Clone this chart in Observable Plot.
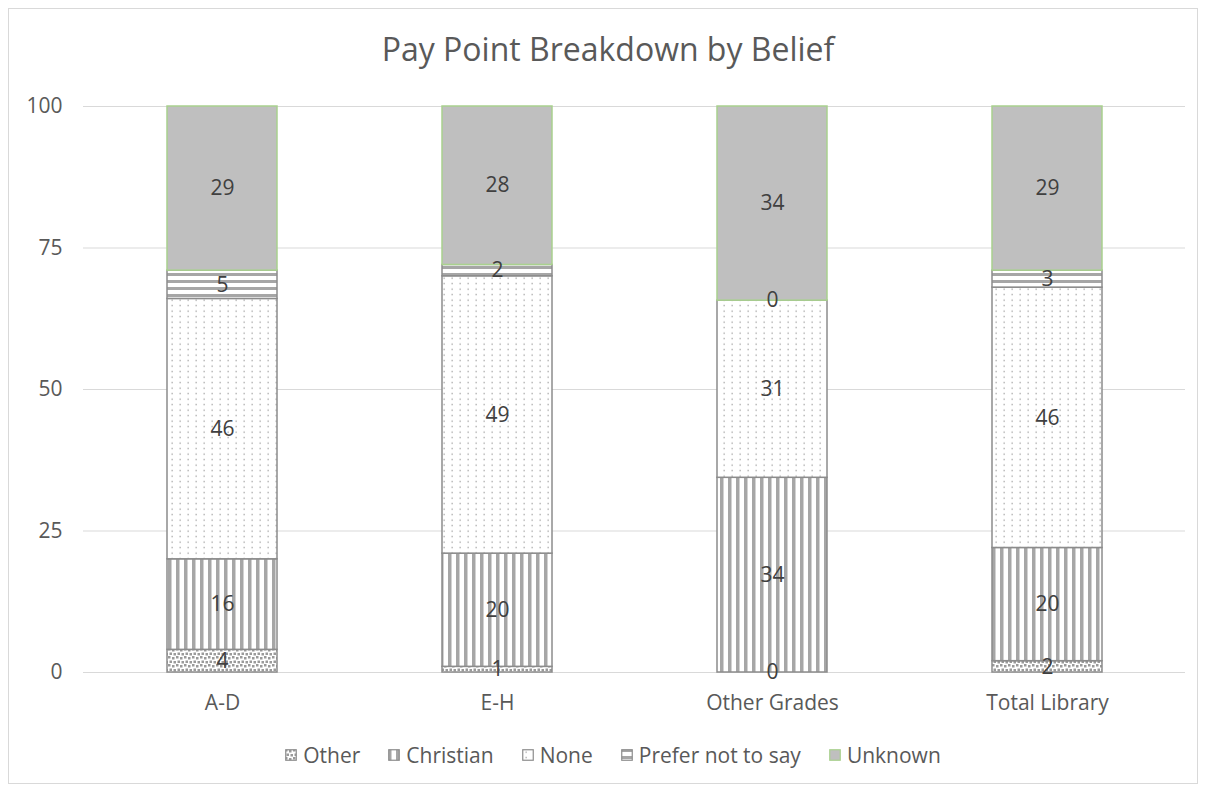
<!DOCTYPE html>
<html><head><meta charset="utf-8">
<script src="https://cdn.jsdelivr.net/npm/d3@7"></script>
<script src="https://cdn.jsdelivr.net/npm/@observablehq/plot@0.6"></script>
<style>
body{margin:0;background:#fff;font-family:"Open Sans","Noto Sans",sans-serif;}
#wrap{position:relative;width:1205px;height:791px;overflow:hidden;}
#frame{position:absolute;left:8px;top:8px;width:1190px;height:776px;border:1px solid #d9d9d9;box-sizing:border-box;}
#title{position:absolute;left:0;width:1216px;top:27px;text-align:center;font-size:32px;color:#595959;line-height:normal;}
#chart{position:absolute;left:0;top:0;}
#legend{position:absolute;left:0;width:1226px;top:741px;display:flex;justify-content:center;gap:28px;font-size:21px;color:#595959;line-height:normal;}
.item{display:flex;align-items:center;gap:6px;}
</style></head>
<body>
<svg width="0" height="0" style="position:absolute">
<defs>
<pattern id="pOther" patternUnits="userSpaceOnUse" width="8" height="8">
<rect width="8" height="8" fill="#fff"/>
<rect x="0" y="0" width="2.5" height="2.5" fill="#9a9a9a"/>
<rect x="4" y="1" width="2.5" height="2.5" fill="#9a9a9a"/>
<rect x="1.5" y="4.5" width="2.5" height="2.5" fill="#9a9a9a"/>
<rect x="5.5" y="5" width="2.5" height="2.5" fill="#9a9a9a"/>
</pattern>
<pattern id="pChristian" patternUnits="userSpaceOnUse" width="8" height="8">
<rect width="8" height="8" fill="#fff"/>
<rect x="0" y="0" width="3.5" height="8" fill="#a6a6a6"/>
</pattern>
<pattern id="pNone" patternUnits="userSpaceOnUse" width="8" height="5.5">
<rect width="8" height="5.5" fill="#fff"/>
<rect x="3.5" y="2.5" width="1.3" height="1.3" fill="#a0a0a0"/>
</pattern>
<pattern id="pPrefer" patternUnits="userSpaceOnUse" width="8" height="7">
<rect width="8" height="7" fill="#fff"/>
<rect x="0" y="0" width="8" height="3" fill="#a6a6a6"/>
</pattern>
</defs>
</svg>
<div id="wrap">
<div id="frame"></div>
<div id="chart"></div>
<div id="title">Pay Point Breakdown by Belief</div>
<div id="legend"></div>
</div>
<script>
const grades = ["A-D", "E-H", "Other Grades", "Total Library"];
const beliefs = ["Other", "Christian", "None", "Prefer not to say", "Unknown"];
const otherVals = [4, 1, 0, 2];
const christianVals = [16, 20, 34.4, 20];
const noneVals = [46, 49, 31.3, 46];
const preferVals = [5, 2, 0, 3];
const unknownVals = [29, 28, 34.3, 29];
const yTicks = [0, 25, 50, 75, 100];

const series = [otherVals, christianVals, noneVals, preferVals, unknownVals];
const rows = [];
grades.forEach((g, i) => beliefs.forEach((b, j) => rows.push({grade: g, belief: b, value: series[j][i]})));

const fills = {"Other": "url(#pOther)", "Christian": "url(#pChristian)", "None": "url(#pNone)", "Prefer not to say": "url(#pPrefer)", "Unknown": "#bfbfbf"};
const strokes = {"Other": "#8c8c8c", "Christian": "#8c8c8c", "None": "#8c8c8c", "Prefer not to say": "#8c8c8c", "Unknown": "#a9d18e"};

const chart = Plot.plot({
  width: 1205, height: 722,
  marginTop: 106, marginBottom: 50, marginLeft: 83, marginRight: 20,
  style: {fontFamily: "'Open Sans','Noto Sans',sans-serif", fontSize: "21px", color: "#595959", background: "transparent"},
  x: {domain: grades, paddingInner: 0.6, paddingOuter: 0.3, label: null},
  y: {domain: [0, 100], label: null},
  color: {type: "identity"},
  marks: [
    Plot.gridY(yTicks, {stroke: "#d9d9d9", strokeOpacity: 1, strokeWidth: 1}),
    Plot.axisY(yTicks, {tickSize: 0, tickPadding: 21, label: null, fontSize: 21}),
    Plot.axisX({tickSize: 0, tickPadding: 23, label: null, fontSize: 21}),
    Plot.rectY(rows, Plot.stackY({x: "grade", y: "value", z: "belief", order: beliefs,
      fill: d => fills[d.belief], stroke: d => strokes[d.belief], strokeWidth: 1.5})),
    Plot.text(rows, Plot.stackY({x: "grade", y: "value", z: "belief", order: beliefs,
      text: d => String(Math.round(d.value)), fill: "#404040", fontSize: 21}))
  ]
});
document.getElementById("chart").appendChild(chart);

const legend = document.getElementById("legend");
beliefs.forEach(b => {
  const item = document.createElement("div");
  item.className = "item";
  item.innerHTML = `<svg width="12" height="12"><rect x="0.75" y="0.75" width="10.5" height="10.5" fill="${fills[b]}" stroke="${strokes[b]}" stroke-width="1.2"/></svg><span>${b}</span>`;
  legend.appendChild(item);
});
</script>
</body></html>
